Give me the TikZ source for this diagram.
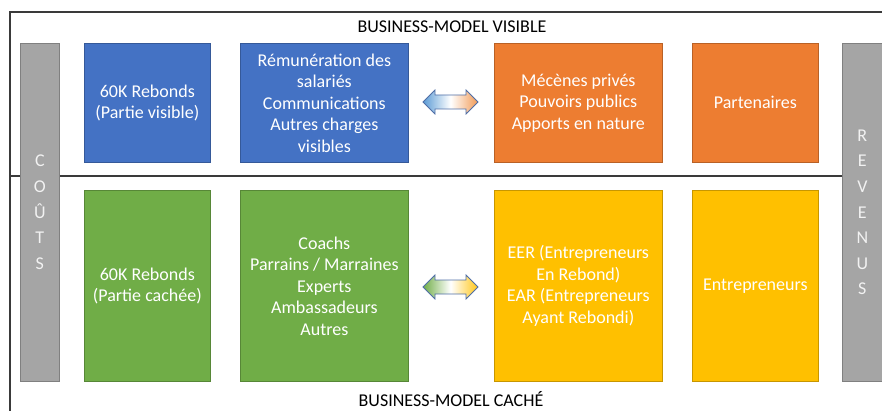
\documentclass[tikz,border=0pt]{standalone}
\usepackage{fontspec}
\setmainfont{Carlito}
\definecolor{cblue}{HTML}{4472C4}
\definecolor{corange}{HTML}{ED7D31}
\definecolor{cgreen}{HTML}{70AD47}
\definecolor{cyellow}{HTML}{FFC000}
\definecolor{cgray}{HTML}{A5A5A5}
\definecolor{cline}{HTML}{3A3A3A}
\definecolor{carrow}{HTML}{4F6EA6}
\definecolor{cabl}{HTML}{5B9BD5}
\definecolor{caor}{HTML}{F19A55}
\begin{document}
\begin{tikzpicture}[x=1pt,y=-1pt,
  txt/.style={font=\fontsize{18}{21.5}\selectfont},
  box/.style={draw=#1!78!black, fill=#1, line width=0.7pt, inner sep=0pt,
    text=white, align=center, anchor=north west, txt},
  bar/.style={draw=black!50, fill=cgray, line width=0.7pt, inner sep=0pt,
    minimum width=39pt, minimum height=338pt, anchor=north west},
  bartext/.style={text=white!95!black, align=center, font=\fontsize{18}{25.6}\selectfont},
  frame/.style={draw=cline, line width=1.2pt},
  blockarrow/.style={draw=carrow, line width=0.8pt}
]
\useasboundingbox (0,0) rectangle (882,411);
% frame lines
\coordinate (ftl) at (10,12);
\coordinate (ftr) at (882,12);
\coordinate (fbl) at (10,411);
\coordinate (fml) at (10,176);
\coordinate (fmr) at (842,176);
\draw[frame] (ftr) -- (ftl) -- (fbl);
\draw[frame] (fml) -- (fmr);
% side bars
\node[bar] (couts) at (20,43) {};
\node[bar, minimum width=40pt] (revenus) at (842,43) {};
\node[bartext] (coutstxt) at (couts.center) {C\\O\\Û\\T\\S};
\node[bartext] (revtxt) at (revenus.center) {R\\E\\V\\E\\N\\U\\S};
% titles
\node[txt] (tvis) at (452,27) {BUSINESS-MODEL VISIBLE};
\node[txt, inner sep=0pt] (tcache) at (451,399) {BUSINESS-MODEL CACHÉ};
% visible boxes
\node[box=cblue, minimum width=126pt, minimum height=119pt] (b1) at (84,43) {60K Rebonds\\(Partie visible)};
\node[box=cblue, minimum width=168pt, minimum height=119pt] (b2) at (240,43) {Rémunération des\\salariés\\Communications\\Autres charges\\visibles};
\node[box=corange, minimum width=168pt, minimum height=119pt] (o1) at (494,43) {Mécènes privés\\Pouvoirs publics\\Apports en nature};
\node[box=corange, minimum width=126pt, minimum height=119pt] (o2) at (692,43) {Partenaires};
% hidden boxes
\node[box=cgreen, minimum width=126pt, minimum height=191pt] (g1) at (84,190) {60K Rebonds\\(Partie cachée)};
\node[box=cgreen, minimum width=168pt, minimum height=191pt] (g2) at (240,190) {Coachs\\Parrains / Marraines\\Experts\\Ambassadeurs\\Autres};
\node[box=cyellow, minimum width=168pt, minimum height=191pt] (y1) at (494,190) {EER (Entrepreneurs\\En Rebond)\\EAR (Entrepreneurs\\Ayant Rebondi)};
\node[box=cyellow, minimum width=126pt, minimum height=191pt] (y2) at (692,190) {Entrepreneurs};
% block arrows
\coordinate (atop) at (450.5,102);
\coordinate (abot) at (450.5,287);
\begin{scope}[shift={(atop)}]
\shade[blockarrow, left color=cabl, right color=caor, middle color=white]
  (-27.5,0) -- (-15.5,-12) -- (-15.5,-7) -- (15.5,-7) -- (15.5,-12) -- (27.5,0)
  -- (15.5,12) -- (15.5,7) -- (-15.5,7) -- (-15.5,12) -- cycle;
\end{scope}
\begin{scope}[shift={(abot)}]
\shade[blockarrow, left color=cgreen, right color=cyellow!90!white, middle color=white]
  (-27.5,0) -- (-15.5,-12) -- (-15.5,-7) -- (15.5,-7) -- (15.5,-12) -- (27.5,0)
  -- (15.5,12) -- (15.5,7) -- (-15.5,7) -- (-15.5,12) -- cycle;
\end{scope}
\end{tikzpicture}
\end{document}
